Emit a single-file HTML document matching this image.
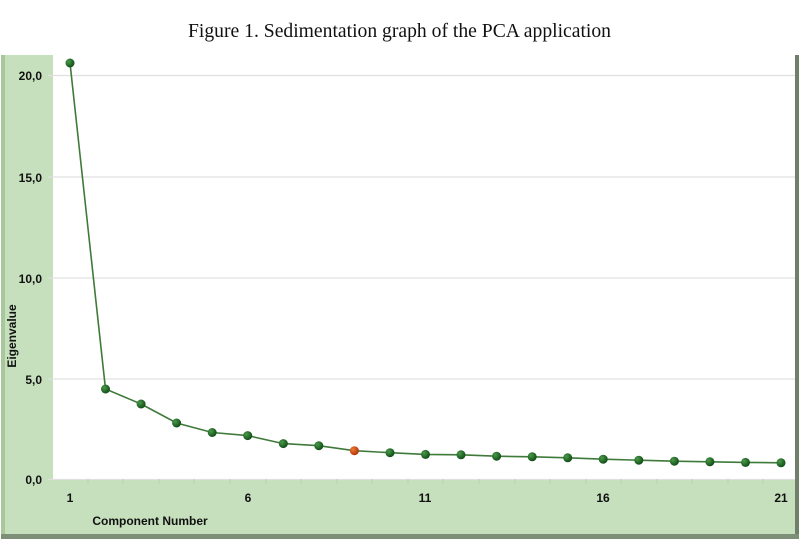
<!DOCTYPE html>
<html><head><meta charset="utf-8"><style>html,body{margin:0;padding:0;background:#fff}svg{display:block}</style></head>
<body>
<svg width="800" height="543" viewBox="0 0 800 543" xmlns="http://www.w3.org/2000/svg" font-family="Liberation Sans, sans-serif">
<defs>
<radialGradient id="g" cx="0.35" cy="0.35" r="0.7"><stop offset="0" stop-color="#4a9a4a"/><stop offset="1" stop-color="#0d4a14"/></radialGradient>
<radialGradient id="r" cx="0.35" cy="0.35" r="0.7"><stop offset="0" stop-color="#f07a30"/><stop offset="1" stop-color="#b0300a"/></radialGradient>
</defs>
<text x="188" y="37" font-size="20" textLength="423" lengthAdjust="spacingAndGlyphs" fill="#111" font-family="Liberation Serif, serif">Figure 1. Sedimentation graph of the PCA application</text>
<!-- frame -->
<rect x="1" y="55" width="797" height="484" fill="#c6dfbc"/>
<rect x="1" y="55" width="4" height="484" fill="#a9c79c"/>
<rect x="795" y="55" width="4" height="484" fill="#6f7f68"/>
<rect x="1" y="534" width="798" height="5" fill="#7d8f76"/>
<rect x="53" y="50" width="742" height="429" fill="#fff"/>
<!-- grid -->
<g stroke="#e0e0e0" stroke-width="1.2">
<line x1="48" y1="75.5" x2="795" y2="75.5"/>
<line x1="48" y1="177" x2="795" y2="177"/>
<line x1="48" y1="278" x2="795" y2="278"/>
<line x1="48" y1="379" x2="795" y2="379"/>
<line x1="48" y1="479.5" x2="795" y2="479.5"/>
</g>
<g stroke="#b8d0ae" stroke-width="1">
<line x1="88" y1="479" x2="88" y2="484"/><line x1="123" y1="479" x2="123" y2="484"/><line x1="159" y1="479" x2="159" y2="484"/><line x1="194" y1="479" x2="194" y2="484"/><line x1="230" y1="479" x2="230" y2="484"/><line x1="266" y1="479" x2="266" y2="484"/><line x1="301" y1="479" x2="301" y2="484"/><line x1="337" y1="479" x2="337" y2="484"/><line x1="372" y1="479" x2="372" y2="484"/><line x1="408" y1="479" x2="408" y2="484"/><line x1="443" y1="479" x2="443" y2="484"/><line x1="479" y1="479" x2="479" y2="484"/><line x1="515" y1="479" x2="515" y2="484"/><line x1="550" y1="479" x2="550" y2="484"/><line x1="586" y1="479" x2="586" y2="484"/><line x1="621" y1="479" x2="621" y2="484"/><line x1="657" y1="479" x2="657" y2="484"/><line x1="692" y1="479" x2="692" y2="484"/><line x1="728" y1="479" x2="728" y2="484"/><line x1="763" y1="479" x2="763" y2="484"/>
</g>
<g font-size="12" font-weight="bold" fill="#111" text-anchor="end">
<text x="42" y="80">20,0</text><text x="42" y="182">15,0</text><text x="42" y="283">10,0</text><text x="42" y="384">5,0</text><text x="42" y="484">0,0</text>
</g>
<g font-size="12" font-weight="bold" fill="#111" text-anchor="middle">
<text x="70" y="502">1</text><text x="248" y="502">6</text><text x="425" y="502">11</text><text x="603" y="502">16</text><text x="781" y="502">21</text>
<text x="150" y="525">Component Number</text>
<text transform="translate(16,336) rotate(-90)">Eigenvalue</text>
</g>
<polyline fill="none" stroke="#3f7a3a" stroke-width="1.6" points="70,63 105.5,389 141.1,404 176.6,423 212.2,432.5 247.7,435.6 283.3,443.6 318.8,445.7 354.4,450.7 390,452.7 425.5,454.4 461,454.8 496.6,456.2 532.2,456.8 567.7,457.8 603.2,459.2 638.8,460.2 674.4,461.2 709.9,461.8 745.5,462.4 781,462.8"/>
<g fill="url(#g)">
<circle cx="70" cy="63" r="4.5"/><circle cx="105.5" cy="389" r="4.5"/><circle cx="141.1" cy="404" r="4.5"/><circle cx="176.6" cy="423" r="4.5"/><circle cx="212.2" cy="432.5" r="4.5"/><circle cx="247.7" cy="435.6" r="4.5"/><circle cx="283.3" cy="443.6" r="4.5"/><circle cx="318.8" cy="445.7" r="4.5"/><circle cx="390" cy="452.7" r="4.5"/><circle cx="425.5" cy="454.4" r="4.5"/><circle cx="461" cy="454.8" r="4.5"/><circle cx="496.6" cy="456.2" r="4.5"/><circle cx="532.2" cy="456.8" r="4.5"/><circle cx="567.7" cy="457.8" r="4.5"/><circle cx="603.2" cy="459.2" r="4.5"/><circle cx="638.8" cy="460.2" r="4.5"/><circle cx="674.4" cy="461.2" r="4.5"/><circle cx="709.9" cy="461.8" r="4.5"/><circle cx="745.5" cy="462.4" r="4.5"/><circle cx="781" cy="462.8" r="4.5"/>
</g>
<circle cx="354.4" cy="450.7" r="4.5" fill="url(#r)"/>
</svg>
</body></html>
